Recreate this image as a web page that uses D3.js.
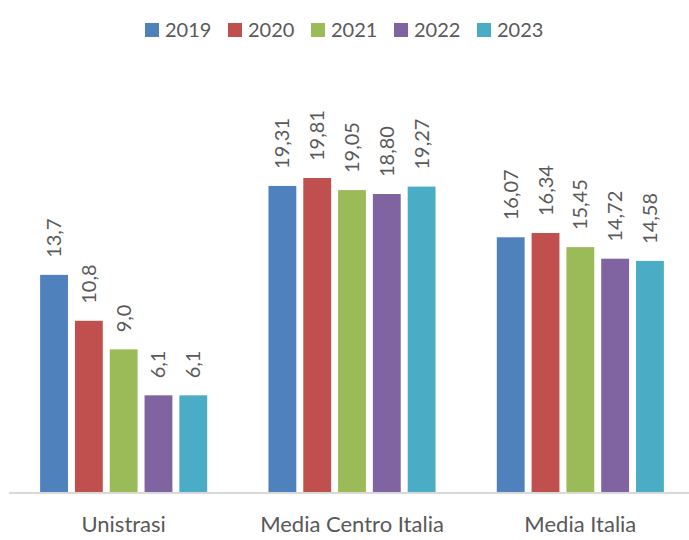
<!DOCTYPE html>
<html>
<head>
<meta charset="utf-8">
<script src="https://cdn.jsdelivr.net/npm/d3@7"></script>
<style>
  body { margin: 0; background: #fff; }
  svg text { font-family: Lato, "Open Sans", sans-serif; fill: #595959; }
</style>
</head>
<body>
<svg width="689" height="540"></svg>
<script>
"use strict";

const categories = ['Unistrasi', 'Media Centro Italia', 'Media Italia'];
const years = ['2019', '2020', '2021', '2022', '2023'];
const values = [
  [13.7, 10.8, 9.0, 6.1, 6.1],
  [19.31, 19.81, 19.05, 18.80, 19.27],
  [16.07, 16.34, 15.45, 14.72, 14.58]
];
const decimals = [1, 2, 2];
const colors = ['#4F81BD', '#C0504D', '#9BBB59', '#8064A2', '#4BACC6'];

const svg = d3.select('svg');
const baseY = 492;

const x0 = d3.scaleBand()
  .domain(categories)
  .range([9.5, 694.5]);

const x1 = d3.scaleBand()
  .domain(years)
  .range([0, x0.bandwidth()])
  .paddingInner(0.2)
  .paddingOuter(0.88);

const y = d3.scaleLinear()
  .domain([0, 25])
  .range([baseY, baseY - 25 * 15.85]);

const color = d3.scaleOrdinal(years, colors);

// bars + labels
const groups = svg.selectAll('g.cat')
  .data(categories)
  .enter()
  .append('g')
  .attr('class', 'cat')
  .attr('transform', d => `translate(${x0(d)},0)`);

groups.each(function (cat, ci) {
  const g = d3.select(this);
  const rows = years.map((yr, i) => ({ yr: yr, v: values[ci][i] }));
  const fmt = d3.format(`.${decimals[ci]}f`);

  g.selectAll('rect')
    .data(rows)
    .enter()
    .append('rect')
    .attr('x', d => x1(d.yr))
    .attr('y', d => y(d.v))
    .attr('width', x1.bandwidth())
    .attr('height', d => baseY - y(d.v))
    .style('fill', d => color(d.yr));

  g.selectAll('text.val')
    .data(rows)
    .enter()
    .append('text')
    .attr('class', 'val')
    .attr('transform', d => `translate(${x1(d.yr) + x1.bandwidth() / 2},${y(d.v) - 17}) rotate(-90)`)
    .attr('dy', '0.35em')
    .style('font-size', '20px')
    .text(d => fmt(d.v).replace('.', ','));
});

// axis line
svg.append('line')
  .attr('x1', 9)
  .attr('x2', 689)
  .attr('y1', baseY + 1)
  .attr('y2', baseY + 1)
  .style('stroke', '#D9D9D9')
  .style('stroke-width', 2);

svg.selectAll('text.cat')
  .data(categories)
  .enter()
  .append('text')
  .attr('class', 'cat')
  .attr('x', d => x0(d) + x0.bandwidth() / 2)
  .attr('y', 532)
  .attr('text-anchor', 'middle')
  .style('font-size', '22px')
  .text(d => d);

// legend
const legend = svg.append('g');
const item = legend.selectAll('g')
  .data(years)
  .enter()
  .append('g')
  .attr('transform', (d, i) => `translate(${145 + i * 83},23)`);

item.append('rect')
  .attr('width', 14)
  .attr('height', 14)
  .style('fill', d => color(d));

item.append('text')
  .attr('x', 20)
  .attr('y', 7)
  .attr('dy', '0.36em')
  .style('font-size', '20px')
  .text(d => d);
</script>
</body>
</html>
